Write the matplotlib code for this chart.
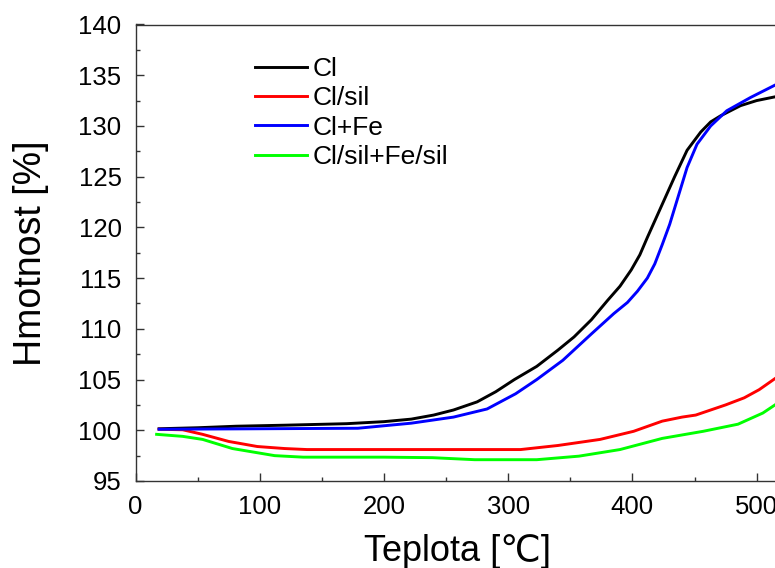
import matplotlib
matplotlib.use("Agg")
import matplotlib.pyplot as plt
from matplotlib.ticker import MultipleLocator

plt.rcParams['font.family'] = ['Liberation Sans', 'DejaVu Sans']

# ---- data ----
labels = ["Cl", "Cl/sil", "Cl+Fe", "Cl/sil+Fe/sil"]
colors = ["#000000", "#ff0000", "#0000ff", "#00ff00"]

cl_x = [19, 50, 81, 120, 170, 200, 222, 240, 256, 275, 290, 305, 323, 340, 353, 367, 380,
        390, 399, 406, 412, 423, 434, 444, 455, 463, 471, 487, 500, 516]
cl_y = [100.15, 100.25, 100.4, 100.5, 100.65, 100.85, 101.1, 101.5, 102.0, 102.8, 103.8, 105.0,
        106.3, 107.9, 109.2, 110.9, 112.8, 114.2, 115.8, 117.3, 119.0, 122.0, 125.0, 127.6,
        129.4, 130.4, 131.0, 132.0, 132.5, 132.9]

clsil_x = [19, 38, 54, 75, 98, 120, 138, 200, 250, 310, 340, 374, 401, 424, 440, 451, 475,
           490, 502, 516]
clsil_y = [100.1, 100.05, 99.6, 98.9, 98.4, 98.2, 98.1, 98.1, 98.1, 98.1, 98.5, 99.1, 99.9,
           100.9, 101.3, 101.5, 102.5, 103.2, 104.0, 105.2]

clfe_x = [19, 100, 179, 222, 256, 283, 306, 323, 344, 367, 385, 396, 404, 412, 418, 424, 430,
          436, 444, 452, 463, 476, 495, 516]
clfe_y = [100.1, 100.15, 100.2, 100.7, 101.3, 102.1, 103.6, 105.0, 106.9, 109.5, 111.5, 112.6,
          113.7, 115.0, 116.4, 118.3, 120.3, 122.7, 125.9, 128.2, 130.0, 131.5, 132.8, 134.1]

mix_x = [17, 38, 54, 78, 112, 135, 200, 239, 273, 323, 357, 390, 424, 457, 485, 505, 516]
mix_y = [99.6, 99.4, 99.1, 98.2, 97.5, 97.35, 97.35, 97.3, 97.1, 97.1, 97.45, 98.1, 99.2,
         99.9, 100.6, 101.7, 102.6]

series_x = [cl_x, clsil_x, clfe_x, mix_x]
series_y = [cl_y, clsil_y, clfe_y, mix_y]

# ---- figure ----
W, H, DPI = 775, 568, 100
fig = plt.figure(figsize=(W / DPI, H / DPI), dpi=DPI)
left_px, right_px, bottom_px, top_px = 135.5, 779, 481, 24.5
ax = fig.add_axes([left_px / W, (H - bottom_px) / H,
                   (right_px - left_px) / W, (bottom_px - top_px) / H])

for x, y, c, lab in zip(series_x, series_y, colors, labels):
    ax.plot(x, y, color=c, lw=2.1, label=lab)

ax.set_xlim(0, 518)
ax.set_ylim(95, 140)
ax.xaxis.set_major_locator(MultipleLocator(100))
ax.xaxis.set_minor_locator(MultipleLocator(50))
ax.yaxis.set_major_locator(MultipleLocator(5))
ax.yaxis.set_minor_locator(MultipleLocator(2.5))
ax.tick_params(which='both', direction='in', top=False, right=False,
               labelsize=18.5, color='#333333')
ax.tick_params(which='major', length=6, width=1, pad=10)
ax.tick_params(which='minor', length=3, width=1)
for s in ax.spines.values():
    s.set_color('#333333')
    s.set_linewidth(1)

ax.set_xlabel("Teplota [℃]", fontsize=26, labelpad=11)
ax.set_ylabel("Hmotnost [%]", fontsize=27, labelpad=21)

ax.legend(loc='upper left', bbox_to_anchor=(255 / W, 1 - 57 / H),
          bbox_transform=fig.transFigure, frameon=False, fontsize=19,
          handlelength=1.97, handletextpad=0.2, labelspacing=0.2,
          borderpad=0, borderaxespad=0)

fig.savefig("out.png", dpi=DPI)
